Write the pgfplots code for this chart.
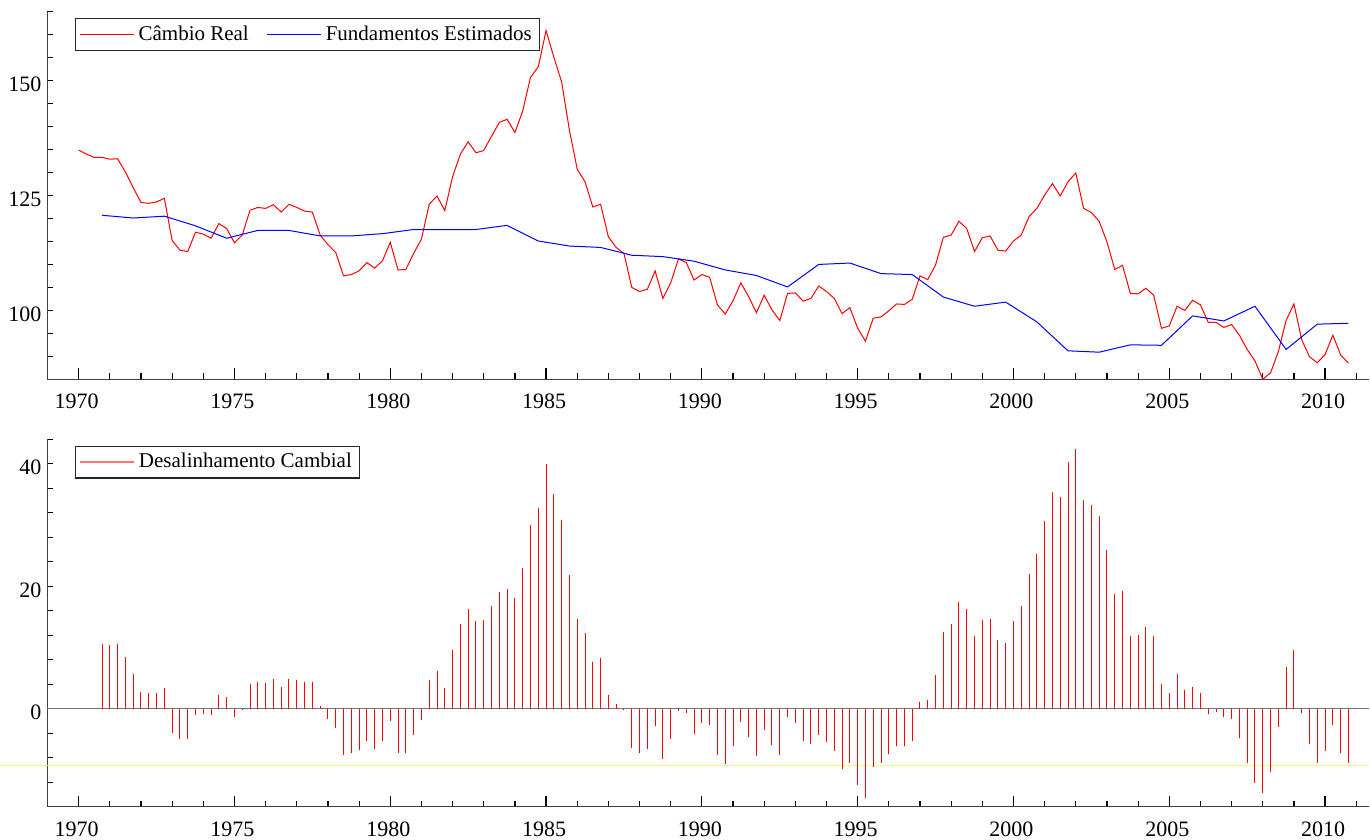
\documentclass[border=0pt]{standalone}
\usepackage{pgfplots}
\pgfplotsset{compat=1.18}
\usepackage{pgfplotstable}
\usepackage{fontspec}
\setmainfont{Liberation Serif}

\pgfplotstableread{
x y
1970.00 134.9
1970.25 134.0
1970.50 133.3
1970.75 133.3
1971.00 132.9
1971.25 133.0
1971.50 130.1
1971.75 126.7
1972.00 123.5
1972.25 123.3
1972.50 123.6
1972.75 124.4
1973.00 115.2
1973.25 113.1
1973.50 112.8
1973.75 117.0
1974.00 116.6
1974.25 115.7
1974.50 118.9
1974.75 117.8
1975.00 114.7
1975.25 116.4
1975.50 121.8
1975.75 122.4
1976.00 122.2
1976.25 123.0
1976.50 121.4
1976.75 123.1
1977.00 122.4
1977.25 121.6
1977.50 121.4
1977.75 116.4
1978.00 114.3
1978.25 112.6
1978.50 107.5
1978.75 107.8
1979.00 108.6
1979.25 110.4
1979.50 109.2
1979.75 110.8
1980.00 114.8
1980.25 108.8
1980.50 108.9
1980.75 112.4
1981.00 115.5
1981.25 123.1
1981.50 124.9
1981.75 121.7
1982.00 129.1
1982.25 134.0
1982.50 136.7
1982.75 134.3
1983.00 134.8
1983.25 137.9
1983.50 140.9
1983.75 141.6
1984.00 138.7
1984.25 143.4
1984.50 150.7
1984.75 153.0
1985.00 160.9
1985.25 155.1
1985.50 149.7
1985.75 139.2
1986.00 130.7
1986.25 128.0
1986.50 122.5
1986.75 123.1
1987.00 116.0
1987.25 113.7
1987.50 112.4
1987.75 105.0
1988.00 104.1
1988.25 104.6
1988.50 108.6
1988.75 102.6
1989.00 106.0
1989.25 111.2
1989.50 110.4
1989.75 106.6
1990.00 107.8
1990.25 107.2
1990.50 101.2
1990.75 99.2
1991.00 102.1
1991.25 106.0
1991.50 103.0
1991.75 99.5
1992.00 103.3
1992.25 100.1
1992.50 97.8
1992.75 103.7
1993.00 103.8
1993.25 102.0
1993.50 102.6
1993.75 105.3
1994.00 104.1
1994.25 102.6
1994.50 99.3
1994.75 100.6
1995.00 96.1
1995.25 93.3
1995.50 98.3
1995.75 98.6
1996.00 99.9
1996.25 101.4
1996.50 101.3
1996.75 102.4
1997.00 107.5
1997.25 106.7
1997.50 109.9
1997.75 115.9
1998.00 116.4
1998.25 119.4
1998.50 117.8
1998.75 112.8
1999.00 115.8
1999.25 116.2
1999.50 113.1
1999.75 112.9
2000.00 115.1
2000.25 116.4
2000.50 120.4
2000.75 122.2
2001.00 125.1
2001.25 127.6
2001.50 124.9
2001.75 128.0
2002.00 129.9
2002.25 122.2
2002.50 121.3
2002.75 119.4
2003.00 114.9
2003.25 108.9
2003.50 109.8
2003.75 103.7
2004.00 103.6
2004.25 104.8
2004.50 103.3
2004.75 96.1
2005.00 96.6
2005.25 100.9
2005.50 100.0
2005.75 102.2
2006.00 101.2
2006.25 97.4
2006.50 97.4
2006.75 96.3
2007.00 96.9
2007.25 94.6
2007.50 91.5
2007.75 89.0
2008.00 85.0
2008.25 86.4
2008.50 91.0
2008.75 97.8
2009.00 101.4
2009.25 93.6
2009.50 89.9
2009.75 88.6
2010.00 90.4
2010.25 94.6
2010.50 90.3
2010.75 88.5
}\realtab

\pgfplotstableread{
x y
1970.75 120.7
1971.75 120.1
1972.75 120.5
1973.75 118.4
1974.75 115.7
1975.75 117.4
1976.75 117.4
1977.75 116.2
1978.75 116.2
1979.75 116.7
1980.75 117.6
1981.75 117.6
1982.75 117.6
1983.75 118.5
1984.75 115.1
1985.75 114.0
1986.75 113.7
1987.75 112.0
1988.75 111.7
1989.75 110.7
1990.75 108.8
1991.75 107.6
1992.75 105.1
1993.75 110.0
1994.75 110.3
1995.75 108.0
1996.75 107.8
1997.75 102.9
1998.75 100.9
1999.75 101.8
2000.75 97.5
2001.75 91.2
2002.75 90.9
2003.75 92.5
2004.75 92.4
2005.75 98.8
2006.75 97.7
2007.75 100.9
2008.75 91.5
2009.75 97.0
2010.75 97.2
}\fundtab

\pgfplotstableread{
x y
1970.75 10.5
1971.00 10.4
1971.25 10.6
1971.50 8.5
1971.75 5.6
1972.00 2.7
1972.25 2.5
1972.50 2.6
1972.75 3.3
1973.00 -4.0
1973.25 -5.0
1973.50 -4.9
1973.75 -1.0
1974.00 -0.8
1974.25 -1.1
1974.50 2.3
1974.75 1.9
1975.00 -1.4
1975.25 -0.2
1975.50 4.1
1975.75 4.3
1976.00 4.2
1976.25 4.8
1976.50 3.5
1976.75 4.9
1977.00 4.7
1977.25 4.3
1977.50 4.4
1977.75 0.4
1978.00 -1.7
1978.25 -3.1
1978.50 -7.6
1978.75 -7.3
1979.00 -6.7
1979.25 -5.3
1979.50 -6.6
1979.75 -5.3
1980.00 -2.0
1980.25 -7.3
1980.50 -7.3
1980.75 -4.3
1981.00 -1.8
1981.25 4.7
1981.50 6.2
1981.75 3.4
1982.00 9.5
1982.25 13.8
1982.50 16.2
1982.75 14.3
1983.00 14.4
1983.25 16.8
1983.50 19.1
1983.75 19.5
1984.00 18.0
1984.25 23.0
1984.50 30.0
1984.75 32.8
1985.00 40.0
1985.25 35.0
1985.50 30.8
1985.75 21.9
1986.00 14.6
1986.25 12.4
1986.50 7.7
1986.75 8.2
1987.00 2.3
1987.25 0.7
1987.50 -0.2
1987.75 -6.4
1988.00 -7.2
1988.25 -6.6
1988.50 -2.8
1988.75 -8.2
1989.00 -5.0
1989.25 -0.3
1989.50 -0.7
1989.75 -4.1
1990.00 -2.4
1990.25 -2.6
1990.50 -7.6
1990.75 -9.1
1991.00 -6.1
1991.25 -2.1
1991.50 -4.6
1991.75 -7.8
1992.00 -3.5
1992.25 -6.0
1992.50 -7.6
1992.75 -1.4
1993.00 -2.4
1993.25 -5.3
1993.50 -5.7
1993.75 -4.3
1994.00 -5.5
1994.25 -6.9
1994.50 -9.9
1994.75 -8.8
1995.00 -12.5
1995.25 -14.5
1995.50 -9.5
1995.75 -8.8
1996.00 -7.4
1996.25 -6.1
1996.50 -6.1
1996.75 -5.2
1997.00 1.1
1997.25 1.4
1997.50 5.5
1997.75 12.5
1998.00 13.8
1998.25 17.4
1998.50 16.3
1998.75 11.8
1999.00 14.5
1999.25 14.7
1999.50 11.2
1999.75 10.7
2000.00 14.3
2000.25 16.7
2000.50 22.0
2000.75 25.3
2001.00 30.6
2001.25 35.3
2001.50 34.6
2001.75 40.2
2002.00 42.4
2002.25 34.1
2002.50 33.2
2002.75 31.4
2003.00 25.9
2003.25 18.7
2003.50 19.2
2003.75 11.9
2004.00 12.0
2004.25 13.3
2004.50 11.8
2004.75 4.1
2005.00 2.6
2005.25 5.6
2005.50 3.0
2005.75 3.6
2006.00 2.6
2006.25 -0.9
2006.50 -0.5
2006.75 -1.4
2007.00 -1.7
2007.25 -4.8
2007.50 -8.8
2007.75 -12.1
2008.00 -13.8
2008.25 -10.3
2008.50 -3.0
2008.75 6.8
2009.00 9.5
2009.25 -0.7
2009.50 -5.8
2009.75 -8.8
2010.00 -6.9
2010.25 -2.6
2010.50 -7.2
2010.75 -8.8
}\desaltab

\pgfplotsset{
  myaxis/.style={
    scale only axis,
    width=660.75pt,
    height=183.8pt,
    xmin=1969, xmax=2011.41,
    axis x line*=bottom,
    axis y line*=left,
    axis line style={black!75, line width=0.6pt},
    tick align=inside,
    major tick length=5.5pt,
    minor tick length=3pt,
    tick style={black, line width=0.6pt},
    major y tick style={draw=none},
    xtick={1970,1975,...,2010},
    minor xtick={1969,1970,...,2011},
    /pgf/number format/assume math mode=true,
    /pgf/number format/set thousands separator={},
    ticklabel style={font=\fontsize{11}{13}\selectfont},
    xticklabel style={yshift=-4pt, xshift=-1pt},
    yticklabel style={yshift=-2pt, xshift=0.5pt},
    legend style={font=\fontsize{10.5}{12}\selectfont, draw=black!85, line width=0.6pt,
      inner xsep=2pt, inner ysep=1.5pt, anchor=north west, legend cell align=left,
      /tikz/every even column/.append style={column sep=7pt}},
    legend image code/.code={\draw[#1, line width=0.5pt] (0pt,0pt) -- (27pt,0pt);},
    clip=false,
  }
}

\begin{document}
\begin{tikzpicture}
\useasboundingbox (-23.75pt,-230.35pt) rectangle (661.25pt,189.65pt);

\begin{axis}[myaxis,
  at={(0pt,0pt)}, anchor=south west,
  ymin=85, ymax=165,
  ytick={100,125,150},
  minor ytick={85,90,...,165},
  legend columns=2,
  legend style={at={(axis description cs:0.0208,0.983)}},
]
\addplot[red, line width=0.5pt] table[x=x,y=y] {\realtab};
\addlegendentry{Câmbio Real}
\addplot[blue, line width=0.5pt] table[x=x,y=y] {\fundtab};
\addlegendentry{Fundamentos Estimados}
\end{axis}

\begin{axis}[myaxis,
  at={(0pt,-213.7pt)}, anchor=south west,
  ymin=-16, ymax=44,
  ytick={0,20,40},
  minor ytick={-16,-12,...,44},
  legend style={at={(axis description cs:0.0208,0.982)}},
]
\draw[yellow!55, line width=0.5pt] (axis cs:1967.4,-9.2) -- (axis cs:2011.41,-9.2);
\draw[black!55, line width=0.5pt] (axis cs:1969,0) -- (axis cs:2011.41,0);
\addplot[red, line width=0.5pt, ycomb, mark=none,
  legend image code/.code={\draw[red!55, line width=0.7pt] (0pt,0pt) -- (27pt,0pt);}]
  table[x=x,y=y] {\desaltab};
\addlegendentry{Desalinhamento Cambial}
\end{axis}
\end{tikzpicture}
\end{document}
